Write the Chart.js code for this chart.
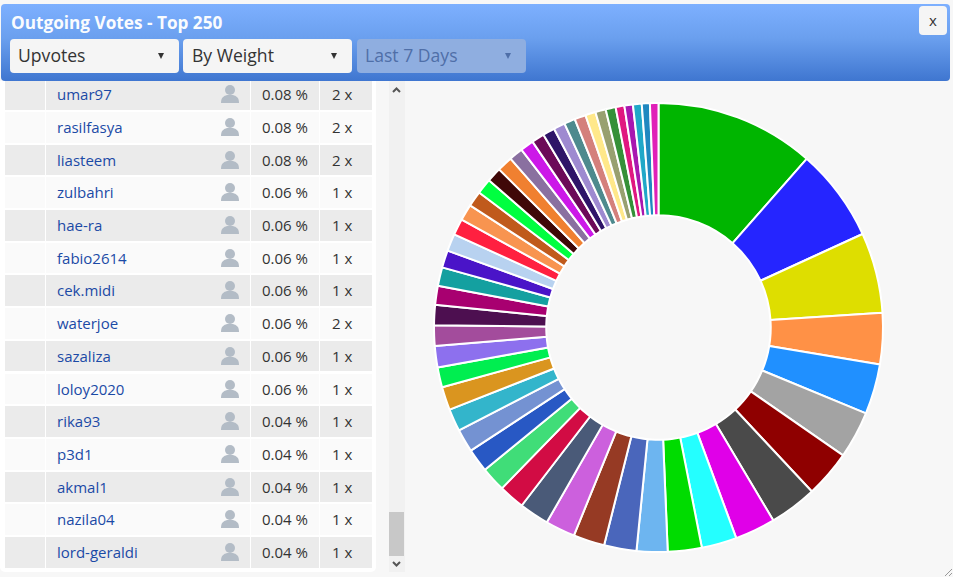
<!DOCTYPE html>
<html><head><meta charset="utf-8">
<script src="https://cdn.jsdelivr.net/npm/chart.js@4"></script>
<style>
html,body{margin:0;padding:0;width:953px;height:577px;overflow:hidden;background:#f7f7f7;font-family:"Open Sans",sans-serif}
#hdr{position:absolute;left:1px;top:4px;width:949px;height:77px;border-radius:4px;background:linear-gradient(#7db0ff 0%,#6a9fee 45%,#3f76d0 100%)}
#title{position:absolute;left:10px;top:7px;color:#fff;font-weight:700;font-size:17.2px;line-height:23px;opacity:.97}
.dd{position:absolute;top:35px;width:169px;height:34px;background:#f5f5f5;border-radius:4px;color:#333;font-size:17.6px;line-height:33px;text-indent:8px}
.dd i{position:absolute;right:15px;top:14px;width:0;height:0;border-left:3px solid transparent;border-right:3px solid transparent;border-top:6px solid #333}
.dd.off{background:#8faee0;color:#4f6fa8}.dd.off i{border-top-color:#4f6fa8}
#x{position:absolute;left:918px;top:2px;width:28px;height:29px;background:#f5f5f5;border-radius:4px;color:#333;font-size:15px;line-height:28px;text-align:center}
#panel{position:absolute;left:0;top:81px;width:376px;height:491px;background:#fff;border-radius:0 0 5px 5px;overflow:hidden}
.row{position:absolute;left:5px;width:367px;height:30.7px;font-size:15px;line-height:30.7px;color:#333}
.row div{position:absolute;top:0;height:100%;background:#fafafa}
.row.alt div{background:#ebebeb}
.c1{left:0;width:40px}.c2{left:41px;width:204px}.c3{left:246px;width:68px}.c4{left:315px;width:52px}
.c2 span{position:absolute;left:11px;color:#1b4aa6}
.c2 svg{position:absolute;left:174px;top:5px}
.c3 span{position:absolute;left:11px}.c4 span{position:absolute;left:12px}
#track{position:absolute;left:389px;top:81px;width:16px;height:491px;background:#f1f1f1}
#thumb{position:absolute;left:0;top:431px;width:15px;height:44px;background:#c8c8c8}
#track svg{position:absolute;left:3px}
#wrap{position:absolute;left:403px;top:102px;width:511px;height:451px}
#grip{position:absolute;right:0;bottom:0}
</style></head><body>
<div id="panel"></div>
<div id="track"><svg style="top:5px" width="9" height="8"><path d="M1 6 L4.5 2.5 L8 6" fill="none" stroke="#555" stroke-width="2"/></svg><div id="thumb"></div><svg style="top:479px" width="9" height="8"><path d="M1 2 L4.5 5.5 L8 2" fill="none" stroke="#555" stroke-width="2"/></svg></div>
<div id="wrap"><canvas id="c" width="511" height="451"></canvas></div>
<div id="hdr"><div id="title">Outgoing Votes - Top 250</div>
<div class="dd" style="left:9px">Upvotes<i></i></div>
<div class="dd" style="left:182px;text-indent:9px">By Weight<i></i></div>
<div class="dd off" style="left:356px">Last 7 Days<i></i></div>
<div id="x">x</div></div>
<svg id="grip" width="10" height="10"><path d="M9 2 L2 9 M9 6 L6 9" stroke="#999" stroke-width="1"/></svg>
<script>
const voters=["umar97","rasilfasya","liasteem","zulbahri","hae-ra","fabio2614","cek.midi","waterjoe","sazaliza","loloy2020","rika93","p3d1","akmal1","nazila04","lord-geraldi"];
const percents=["0.08 %","0.08 %","0.08 %","0.06 %","0.06 %","0.06 %","0.06 %","0.06 %","0.06 %","0.06 %","0.04 %","0.04 %","0.04 %","0.04 %","0.04 %"];
const counts=["2 x","2 x","2 x","1 x","1 x","1 x","1 x","2 x","1 x","1 x","1 x","1 x","1 x","1 x","1 x"];
const shares=[11.47,6.69,5.78,3.69,3.61,3.39,3.39,3.42,2.92,2.53,2.44,2.22,2.33,2.25,2.14,2.14,1.86,1.78,1.69,1.67,1.61,1.67,1.44,1.53,1.47,1.47,1.36,1.33,1.25,1.25,1.17,1.17,1.11,1.11,1.06,1.11,1.00,0.97,0.92,0.86,0.83,0.79,0.81,0.74,0.75,0.72,0.63,0.61,0.63,0.58,0.61];
const sliceColors=["#00b500","#2525ff","#dede00","#ff9146","#2090ff","#a3a3a3","#8f0000","#4a4a4a","#e000e8","#24ffff","#00dc00","#6db5f0","#4a66bb","#963a24","#cc60dd","#4a5a78","#d20c44","#40dd78","#2858c4","#7492d2","#33b5cb","#da951f","#00ee50","#8d70ee","#a34c9c","#4d0f50","#a80070","#14a0a0","#4a14c8","#b8d2f0","#ff2040","#f89450","#c05a1c","#00ff40","#400808","#f08030","#8a70a0","#cc18e8","#6c0a58","#2e1468","#9e8ad0","#4e8a8e","#d4807c","#ffe88a","#98a070","#369038","#e01880","#a818b0","#20a8c8","#2088c0","#e020b8"];

const icon='<svg width="20" height="20" viewBox="0 0 20 20"><circle cx="10" cy="6" r="5" fill="#b3bcc6"/><path d="M1 19 C1 13 4 12 7 11 L13 11 C16 12 19 13 19 19 Z" fill="#b3bcc6"/></svg>';
const panel=document.getElementById('panel');
voters.forEach((v,i)=>{
  const r=document.createElement('div');
  r.className='row'+(i%2==0?' alt':'');
  r.style.top=(-1.8+i*32.7)+'px';
  r.innerHTML='<div class="c1"></div><div class="c2"><span>'+v+'</span>'+icon+'</div><div class="c3"><span>'+percents[i]+'</span></div><div class="c4"><span>'+counts[i]+'</span></div>';
  panel.appendChild(r);
});
new Chart(document.getElementById('c'),{type:'doughnut',
  data:{labels:shares.map((_,i)=>String(i+1)),datasets:[{data:shares,backgroundColor:sliceColors,borderColor:'#ffffff',borderWidth:2}]},
  options:{responsive:false,animation:false,cutout:'50%',plugins:{legend:{display:false},tooltip:{enabled:false}},layout:{padding:0}}});
</script>
</body></html>
